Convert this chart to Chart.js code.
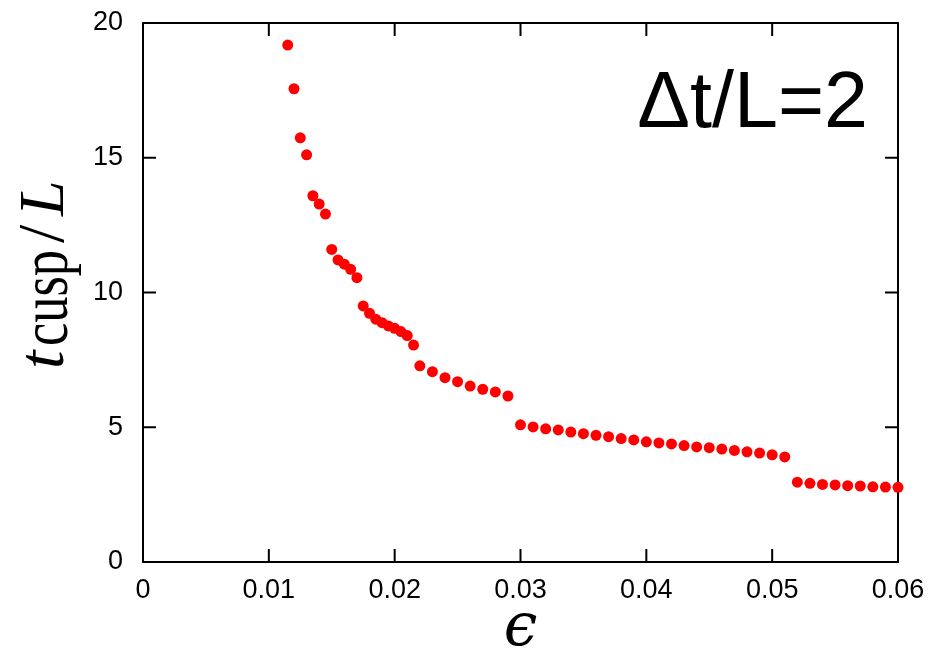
<!DOCTYPE html>
<html>
<head>
<meta charset="utf-8">
<title>t_cusp / L vs epsilon</title>
<script src="https://cdn.jsdelivr.net/npm/chart.js@4.4.1/dist/chart.umd.min.js"></script>
<style>
  html, body { margin: 0; padding: 0; background: #fff; }
  #wrap { width: 935px; height: 651px; }
</style>
</head>
<body>
<div id="wrap"><canvas id="cuspChart" width="935" height="651"></canvas></div>
<script>
'use strict';

// epsilon values (fine step up to 0.0215, then 0.001)
var epsValues = [
  0.0115, 0.012, 0.0125, 0.013, 0.0135, 0.014, 0.0145, 0.015, 0.0155, 0.016,
  0.0165, 0.017, 0.0175, 0.018, 0.0185, 0.019, 0.0195, 0.020, 0.0205, 0.021,
  0.0215, 0.022, 0.023, 0.024, 0.025, 0.026, 0.027, 0.028, 0.029, 0.030,
  0.031, 0.032, 0.033, 0.034, 0.035, 0.036, 0.037, 0.038, 0.039, 0.040,
  0.041, 0.042, 0.043, 0.044, 0.045, 0.046, 0.047, 0.048, 0.049, 0.050,
  0.051, 0.052, 0.053, 0.054, 0.055, 0.056, 0.057, 0.058, 0.059, 0.060
];

// cusp time in units of L
var tCuspValues = [
  19.18, 17.56, 15.74, 15.11, 13.59, 13.28, 12.91, 11.60, 11.21, 11.05,
  10.86, 10.55, 9.50, 9.23, 9.01, 8.88, 8.76, 8.67, 8.55, 8.40,
  8.05, 7.28, 7.06, 6.84, 6.69, 6.53, 6.41, 6.31, 6.16, 5.09,
  5.01, 4.94, 4.90, 4.82, 4.76, 4.70, 4.65, 4.58, 4.53, 4.46,
  4.42, 4.38, 4.32, 4.27, 4.24, 4.19, 4.14, 4.09, 4.04, 3.98,
  3.90, 2.96, 2.92, 2.88, 2.86, 2.83, 2.82, 2.79, 2.78, 2.77
];

var xTickValues = [0, 0.01, 0.02, 0.03, 0.04, 0.05, 0.06];
var xTickLabels = ['0', '0.01', '0.02', '0.03', '0.04', '0.05', '0.06'];
var yTickValues = [0, 5, 10, 15, 20];
var yTickLabels = ['0', '5', '10', '15', '20'];

var annotation = '\u0394t/L=2';

var points = epsValues.map(function(e, i) {
  return { x: e, y: tCuspValues[i] };
});

// box around the plot with inward ticks on every side
var framePlugin = {
  id: 'frame',
  beforeDatasetsDraw: function(chart) {
    var ctx = chart.ctx;
    var a = chart.chartArea;
    var xs = chart.scales.x;
    var ys = chart.scales.y;
    var tick = 13;
    ctx.save();
    ctx.strokeStyle = '#000';
    ctx.lineWidth = 2;
    ctx.strokeRect(a.left, a.top, a.right - a.left, a.bottom - a.top);
    ctx.beginPath();
    xTickValues.forEach(function(v) {
      var px = xs.getPixelForValue(v);
      ctx.moveTo(px, a.bottom);
      ctx.lineTo(px, a.bottom - tick);
      ctx.moveTo(px, a.top);
      ctx.lineTo(px, a.top + tick);
    });
    yTickValues.forEach(function(v) {
      var py = ys.getPixelForValue(v);
      ctx.moveTo(a.left, py);
      ctx.lineTo(a.left + tick, py);
      ctx.moveTo(a.right, py);
      ctx.lineTo(a.right - tick, py);
    });
    ctx.stroke();
    ctx.restore();
  },
  afterDraw: function(chart) {
    var ctx = chart.ctx;
    var a = chart.chartArea;
    ctx.save();
    ctx.fillStyle = '#000';

    // label inside the plot, top right
    ctx.font = '79px "Liberation Sans", Arial, sans-serif';
    ctx.textAlign = 'right';
    ctx.textBaseline = 'alphabetic';
    ctx.fillText(annotation, 868, 127);

    // x axis title
    ctx.font = 'italic 60px "DejaVu Serif", serif';
    ctx.textAlign = 'center';
    ctx.fillText('\u03f5', (a.left + a.right) / 2, 645);

    // y axis title: t_cusp / L, rotated
    var midY = 272;
    ctx.translate(63, midY);
    ctx.rotate(-Math.PI / 2);
    ctx.textAlign = 'left';
    ctx.font = 'italic 66px "Liberation Serif", "Times New Roman", serif';
    ctx.fillText('t', -97, 0);

    ctx.save();
    ctx.font = '68px "Liberation Serif", "Times New Roman", serif';
    var w = ctx.measureText('cusp').width;
    ctx.translate(-74, 4);
    ctx.scale(96 / w, 1);
    ctx.fillText('cusp', 0, 0);
    ctx.restore();

    ctx.font = '66px "Liberation Serif", "Times New Roman", serif';
    ctx.fillText('/', 29, 0);
    ctx.font = 'italic 64px "Liberation Serif", "Times New Roman", serif';
    ctx.fillText('L', 56, 0);
    ctx.restore();
  }
};

var tickFont = { family: '"Liberation Sans", Arial, sans-serif', size: 27 };

var ctx = document.getElementById('cuspChart').getContext('2d');

var chart = new Chart(ctx, {
  type: 'scatter',
  data: {
    datasets: [
      {
        data: points,
        backgroundColor: '#ff0000',
        borderWidth: 0,
        pointRadius: 5.5,
        pointHoverRadius: 5.5,
        clip: false
      }
    ]
  },
  options: {
    responsive: false,
    animation: false,
    events: [],
    layout: {
      padding: { top: 23, right: 37, left: 0, bottom: 0 }
    },
    plugins: {
      legend: { display: false },
      tooltip: { enabled: false }
    },
    scales: {
      x: {
        type: 'linear',
        min: 0,
        max: 0.06,
        grid: { display: false, drawTicks: false },
        border: { display: false },
        afterBuildTicks: function(scale) {
          scale.ticks = xTickValues.map(function(v) { return { value: v }; });
        },
        afterFit: function(scale) {
          scale.height = 89;
          scale.paddingLeft = 0;
          scale.paddingRight = 0;
        },
        ticks: {
          color: '#000',
          font: tickFont,
          padding: 12,
          maxRotation: 0,
          autoSkip: false,
          callback: function(value, index) { return xTickLabels[index]; }
        }
      },
      y: {
        type: 'linear',
        min: 0,
        max: 20,
        grid: { display: false, drawTicks: false },
        border: { display: false },
        afterBuildTicks: function(scale) {
          scale.ticks = yTickValues.map(function(v) { return { value: v }; });
        },
        afterFit: function(scale) {
          scale.width = 143;
          scale.paddingTop = 0;
          scale.paddingBottom = 0;
        },
        ticks: {
          color: '#000',
          font: tickFont,
          padding: 20,
          autoSkip: false,
          callback: function(value, index) { return yTickLabels[index]; }
        }
      }
    }
  },
  plugins: [framePlugin]
});
</script>
</body>
</html>
